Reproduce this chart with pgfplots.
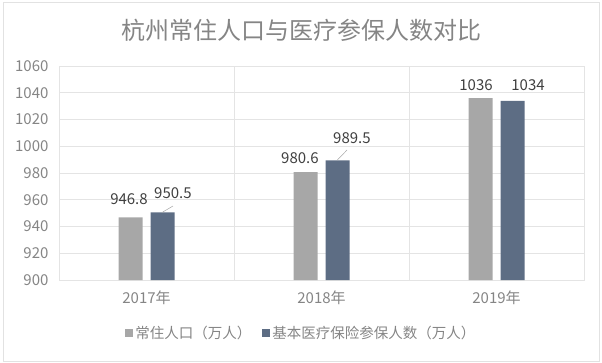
\documentclass[border=0pt]{standalone}
\usepackage{fontspec}
\setmainfont{Noto Sans CJK SC}
\usepackage{pgfplots}
\pgfplotsset{compat=1.18}
\definecolor{barA}{HTML}{A7A7A7}
\definecolor{barB}{HTML}{5D6D84}
\definecolor{gridc}{HTML}{E4E4E4}
\definecolor{txtc}{HTML}{858585}
\definecolor{lblc}{HTML}{404040}
\definecolor{framec}{HTML}{E2E2E2}
\begin{document}
\begin{tikzpicture}
\begin{axis}[
  at={(0,0)}, anchor=south west,
  scale only axis, width=525pt, height=214pt,
  xmin=-0.5, xmax=2.5, ymin=900, ymax=1060,
  ytick={900,920,...,1060},
  xtick={0,1,2}, xticklabels={2017年,2018年,2019年},
  minor xtick={0.5,1.5},
  xminorgrids, ymajorgrids,
  grid style={gridc, line width=0.6pt},
  minor grid style={gridc, line width=0.6pt},
  axis line style={gridc, line width=0.6pt},
  major tick length=0pt, minor tick length=0pt,
  tick label style={txtc, font=\fontsize{15}{16}\selectfont},
  /pgf/number format/assume math mode=true,
  /pgf/number format/1000 sep={},
  yticklabel style={xshift=-7pt},
  xticklabel style={yshift=-7pt},
  ybar=8pt, bar width=24pt,
  legend style={at={(0.4618,-0.2477)}, anchor=center, draw=none, fill=none,
    legend columns=2, font=\fontsize{14.5}{16}\selectfont, text=txtc,
    /tikz/every even column/.append style={column sep=9pt}},
  legend image code/.code={\fill[#1] (0pt,-4pt) rectangle (8pt,4pt);},
  clip=false,
]
\addplot[fill=barA, draw=none] coordinates {(0,946.8) (1,980.6) (2,1036)};
\addplot[fill=barB, draw=none] coordinates {(0,950.5) (1,989.5) (2,1034)};
\legend{常住人口（万人）, 基本医疗保险参保人数（万人）}
\draw[gray!70, line width=0.5pt] (axis cs:0.089,950.5) -- (axis cs:0.151,955.3);
\draw[gray!70, line width=0.5pt] (axis cs:1.089,989.5) -- (axis cs:1.146,997.2);
\begin{scope}[every node/.style={lblc, font=\fontsize{15}{16}\selectfont}]
\node at (axis cs:-0.1,960.6) {946.8};
\node at (axis cs:0.151,965.0) {950.5};
\node at (axis cs:0.877,991.2) {980.6};
\node at (axis cs:1.174,1006.2) {989.5};
\node at (axis cs:1.883,1045.8) {1036};
\node at (axis cs:2.18,1045.8) {1034};
\end{scope}
\end{axis}
\draw[framec, line width=0.6pt] (-56pt,-81pt) rectangle (540pt,278pt);
\node[txtc, font=\fontsize{24}{26}\selectfont] at (242pt,250pt) {杭州常住人口与医疗参保人数对比};
\path (-59pt,-82pt) rectangle (543pt,280pt);
\end{tikzpicture}
\end{document}
